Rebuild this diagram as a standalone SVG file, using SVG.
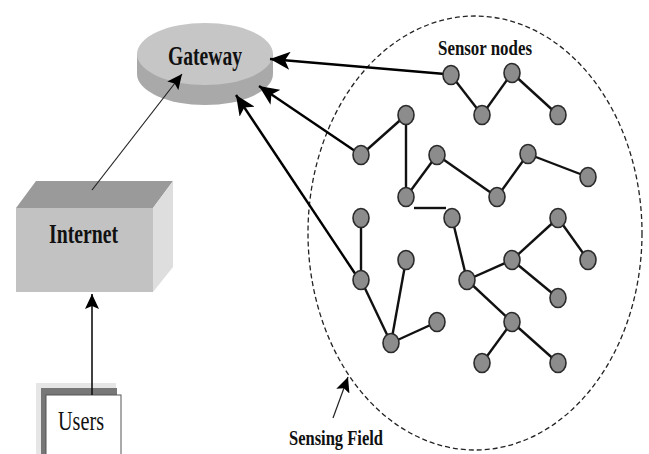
<svg xmlns="http://www.w3.org/2000/svg" width="649" height="454" viewBox="0 0 649 454">
<defs>
<style>
.lbl{font-family:"Liberation Serif","Times New Roman",serif;fill:#111;}
.b{font-weight:bold;}
.sn{fill:#8c8c8c;stroke:#2a2a2a;stroke-width:1.6;}
.edge{stroke:#111;stroke-width:2.4;fill:none;}
.big{stroke:#000;stroke-width:2.4;fill:none;marker-end:url(#bigHead);}
.thin{stroke:#222;stroke-width:1.2;fill:none;}
</style>
<marker id="bigHead" markerUnits="userSpaceOnUse" markerWidth="22" markerHeight="18" refX="20" refY="9" orient="auto">
<path d="M0,0 L20,9 L0,18 L5,9 Z" fill="#000"/>
</marker>
<marker id="smallHead" markerUnits="userSpaceOnUse" markerWidth="16" markerHeight="14" refX="15" refY="7" orient="auto">
<path d="M0,0 L15,7 L0,14 L3,7 Z" fill="#000"/>
</marker>
</defs>
<rect width="649" height="454" fill="#fff"/>

<g id="sensing-field">
<ellipse cx="475" cy="233" rx="167" ry="217" fill="none" stroke="#222" stroke-width="1.3" stroke-dasharray="5,3"/>
</g>

<g id="gateway">
<ellipse cx="205" cy="74" rx="68" ry="31" fill="#a9a9a9"/>
<rect x="137" y="54" width="136" height="20" fill="#a9a9a9"/>
<ellipse cx="205" cy="54" rx="68" ry="31" fill="#c6c6c6"/>
<text class="lbl b" x="168" y="65" font-size="27" textLength="74" lengthAdjust="spacingAndGlyphs">Gateway</text>
</g>

<g id="internet">
<polygon points="16,208 36,181 173,181 153,208" fill="#9a9a9a"/>
<polygon points="153,208 173,181 173,267 153,292" fill="#dedede"/>
<rect x="16" y="208" width="137" height="84" fill="#c2c2c2"/>
<text class="lbl b" x="49" y="243" font-size="27" textLength="69" lengthAdjust="spacingAndGlyphs">Internet</text>
</g>

<g id="users">
<rect x="36" y="383" width="80" height="71" fill="#e6e6e6"/>
<rect x="41" y="388" width="76" height="66" fill="#777"/>
<rect x="46" y="395" width="75" height="60" fill="#fff" stroke="#555" stroke-width="1"/>
<text class="lbl" x="58" y="430" font-size="27" textLength="46" lengthAdjust="spacingAndGlyphs">Users</text>
</g>

<g id="labels">
<text class="lbl b" x="438" y="55" font-size="22" textLength="94" lengthAdjust="spacingAndGlyphs">Sensor nodes</text>
<text class="lbl b" x="289" y="445" font-size="21" textLength="94" lengthAdjust="spacingAndGlyphs">Sensing Field</text>
</g>

<g id="connectors">
<line class="thin" x1="92" y1="190" x2="182" y2="74" marker-end="url(#smallHead)"/>
<line x1="92" y1="395" x2="92" y2="294" stroke="#111" stroke-width="1.6" marker-end="url(#smallHead)"/>
<line class="thin" x1="333" y1="418" x2="348" y2="377" marker-end="url(#smallHead)"/>
<line class="big" x1="445" y1="74" x2="270" y2="59"/>
<line class="big" x1="355" y1="151" x2="259" y2="86"/>
<line class="big" x1="356" y1="275" x2="236" y2="95"/>
<g id="tree-edges">
<line class="edge" x1="451" y1="75" x2="482" y2="115"/>
<line class="edge" x1="482" y1="115" x2="512" y2="73"/>
<line class="edge" x1="512" y1="73" x2="558" y2="115"/>
<line class="edge" x1="361" y1="155" x2="406" y2="115"/>
<line class="edge" x1="406" y1="115" x2="406" y2="197"/>
<line class="edge" x1="406" y1="197" x2="437" y2="155"/>
<line class="edge" x1="437" y1="155" x2="497" y2="197"/>
<line class="edge" x1="497" y1="197" x2="528" y2="154"/>
<line class="edge" x1="528" y1="154" x2="588" y2="177"/>
<line class="edge" x1="414" y1="208" x2="446" y2="208"/>
<line class="edge" x1="452" y1="218" x2="467" y2="280"/>
<line class="edge" x1="467" y1="280" x2="512" y2="260"/>
<line class="edge" x1="512" y1="260" x2="558" y2="218"/>
<line class="edge" x1="558" y1="218" x2="588" y2="260"/>
<line class="edge" x1="512" y1="260" x2="558" y2="298"/>
<line class="edge" x1="467" y1="280" x2="512" y2="322"/>
<line class="edge" x1="512" y1="322" x2="482" y2="363"/>
<line class="edge" x1="512" y1="322" x2="558" y2="363"/>
<line class="edge" x1="361" y1="218" x2="361" y2="280"/>
<line class="edge" x1="361" y1="280" x2="391" y2="343"/>
<line class="edge" x1="406" y1="260" x2="391" y2="343"/>
<line class="edge" x1="391" y1="343" x2="437" y2="322"/>
</g>
</g>

<g id="sensor-nodes">
<ellipse id="n1" class="sn" cx="451" cy="75" rx="8" ry="9.5"/>
<ellipse id="n2" class="sn" cx="482" cy="115" rx="8" ry="9.5"/>
<ellipse id="n3" class="sn" cx="512" cy="73" rx="8" ry="9.5"/>
<ellipse id="n4" class="sn" cx="558" cy="115" rx="8" ry="9.5"/>
<ellipse id="n5" class="sn" cx="406" cy="115" rx="8" ry="9.5"/>
<ellipse id="n6" class="sn" cx="361" cy="155" rx="8" ry="9.5"/>
<ellipse id="n7" class="sn" cx="437" cy="155" rx="8" ry="9.5"/>
<ellipse id="n8" class="sn" cx="528" cy="154" rx="8" ry="9.5"/>
<ellipse id="n9" class="sn" cx="588" cy="177" rx="8" ry="9.5"/>
<ellipse id="n10" class="sn" cx="406" cy="197" rx="8" ry="9.5"/>
<ellipse id="n11" class="sn" cx="497" cy="197" rx="8" ry="9.5"/>
<ellipse id="n12" class="sn" cx="361" cy="218" rx="8" ry="9.5"/>
<ellipse id="n13" class="sn" cx="452" cy="218" rx="8" ry="9.5"/>
<ellipse id="n14" class="sn" cx="558" cy="218" rx="8" ry="9.5"/>
<ellipse id="n15" class="sn" cx="406" cy="260" rx="8" ry="9.5"/>
<ellipse id="n16" class="sn" cx="512" cy="260" rx="8" ry="9.5"/>
<ellipse id="n17" class="sn" cx="588" cy="260" rx="8" ry="9.5"/>
<ellipse id="n18" class="sn" cx="361" cy="280" rx="8" ry="9.5"/>
<ellipse id="n19" class="sn" cx="467" cy="280" rx="8" ry="9.5"/>
<ellipse id="n20" class="sn" cx="558" cy="298" rx="8" ry="9.5"/>
<ellipse id="n21" class="sn" cx="437" cy="322" rx="8" ry="9.5"/>
<ellipse id="n22" class="sn" cx="512" cy="322" rx="8" ry="9.5"/>
<ellipse id="n23" class="sn" cx="391" cy="343" rx="8" ry="9.5"/>
<ellipse id="n24" class="sn" cx="482" cy="363" rx="8" ry="9.5"/>
<ellipse id="n25" class="sn" cx="558" cy="363" rx="8" ry="9.5"/>
</g>
</svg>
